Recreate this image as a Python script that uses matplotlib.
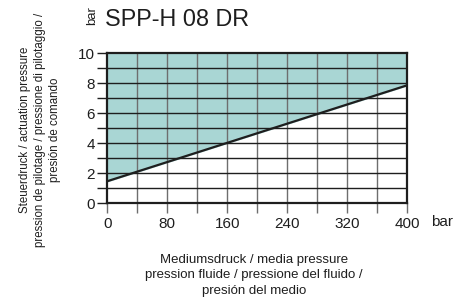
import matplotlib
matplotlib.use("Agg")
import matplotlib.pyplot as plt
import numpy as np

# data
media_pressure = [0, 400]          # bar
actuation_pressure = [1.45, 7.85]  # bar
x_ticks = [0, 80, 160, 240, 320, 400]
y_ticks = [0, 2, 4, 6, 8, 10]

plt.rcParams['font.family'] = ['Liberation Sans', 'DejaVu Sans']

fig = plt.figure(figsize=(4.56, 3.03), dpi=100)
ax = fig.add_axes([0.235, 0.33, 0.658, 0.495])

ax.fill_between(media_pressure, actuation_pressure, 10, color='#a9d6d4', zorder=1)

# grid
for xv in np.arange(40, 400, 40):
    ax.axvline(xv, color='#6e6e6e', lw=1.0, zorder=2)
for yv in np.arange(1, 10, 1):
    ax.axhline(yv, color='#1e1e1e', lw=1.0, zorder=2)

ax.plot(media_pressure, actuation_pressure, color='#1e1e1e', lw=1.6, zorder=3)

ax.set_xlim(0, 400)
ax.set_ylim(0, 10)
for s in ax.spines.values():
    s.set_linewidth(1.6)
    s.set_color('#1e1e1e')

ax.set_xticks(x_ticks)
ax.set_xticks(np.arange(0, 401, 40), minor=True)
ax.set_yticks(y_ticks)
ax.set_yticks(np.arange(0, 11, 1), minor=True)
ax.tick_params(axis='x', which='both', length=7, width=1.0, color='#6e6e6e',
               labelsize=11, pad=3)
ax.tick_params(axis='y', which='both', length=7, width=1.0, color='#1e1e1e',
               labelsize=11, pad=2)
ax.tick_params(which='both', labelcolor='#1e1e1e')

fig.text(0.23, 0.934, 'SPP-H 08 DR', fontsize=16.8, color='#1e1e1e', va='center')
fig.text(0.203, 0.95, 'bar', fontsize=9.5, rotation=90, color='#1e1e1e',
         ha='center', va='center')
fig.text(0.945, 0.267, 'bar', fontsize=11, color='#1e1e1e', ha='left', va='center')

fig.text(0.088, 0.571, 'Steuerdruck / actuation pressure\n'
         'pression de pilotage / pressione di pilotaggio /\n'
         'presión de comando', rotation=90, fontsize=8.3, color='#1e1e1e',
         ha='center', va='center', linespacing=1.3)
fig.text(0.557, 0.092, 'Mediumsdruck / media pressure\n'
         'pression fluide / pressione del fluido /\n'
         'presión del medio', fontsize=9.5, color='#1e1e1e',
         ha='center', va='center', linespacing=1.4)

fig.savefig('out.png', dpi=100)
